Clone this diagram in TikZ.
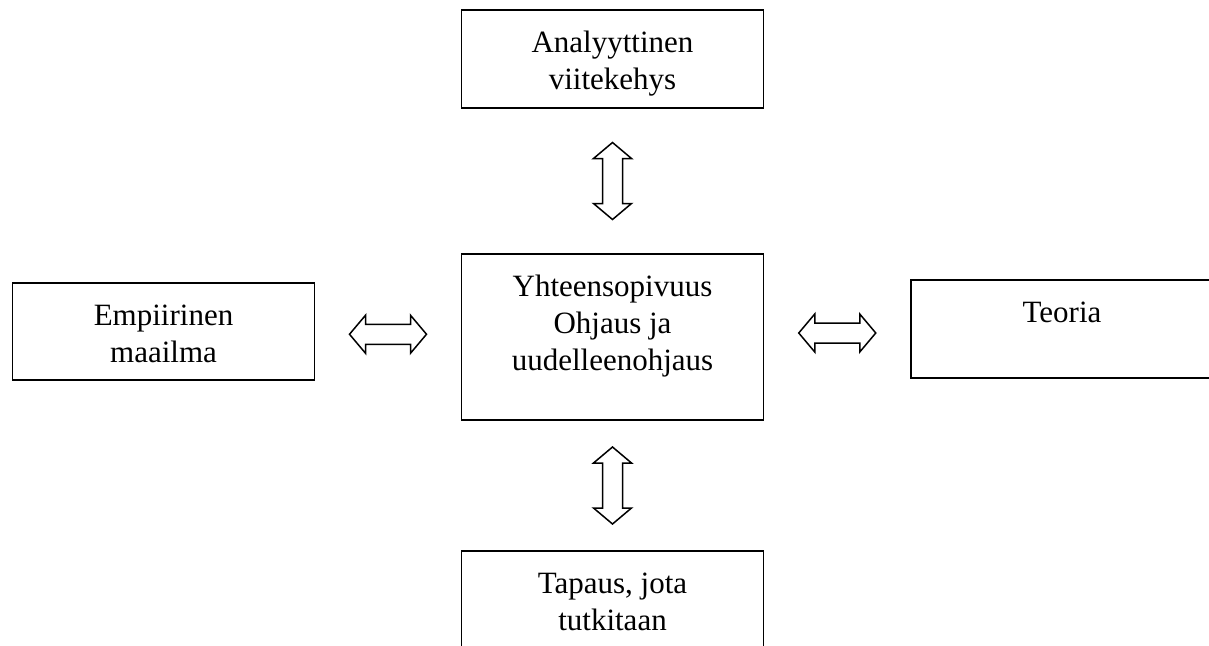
\documentclass[tikz,border=0pt]{standalone}
\usepackage{fontspec}
\setmainfont{Liberation Serif}
\usetikzlibrary{calc}
\newcommand{\boxtext}[2]{\parbox[c][#1][t]{302pt}{\centering\rule{0pt}{42pt}#2}}

\begin{document}
\begin{tikzpicture}[x=1pt, y=-1pt,
  box/.style={draw, line width=1.6pt, inner sep=0pt, font=\fontsize{31}{37}\selectfont},
  blockarrow/.style={draw, line width=1.5pt, line join=miter}]
\useasboundingbox (0,0) rectangle (1209,645);

\node[box] (top) at (612.5,59) {\boxtext{98pt}{Analyyttinen\\viitekehys}};
\node[box] (left) at (163.5,331.5) {\boxtext{97pt}{Empiirinen\\maailma}};
\node[box] (mid) at (612.5,337) {\boxtext{166pt}{Yhteensopivuus\\Ohjaus ja\\uudelleenohjaus}};
\node[box] (right) at (1062,329) {\boxtext{98pt}{Teoria}};
\node[box] (bot) at (612.5,606) {\boxtext{110pt}{Tapaus, jota\\tutkitaan}};

% hollow double arrows half way between the boxes
\foreach \a/\b/\r in {top.south/mid.north/90, mid.south/bot.north/90,
                      left.east/mid.west/0, mid.east/right.west/0}
  \draw[blockarrow, shift={($(\a)!0.5!(\b)$)}, rotate=\r]
    (-38.5,0) -- (-22.5,19) -- (-22.5,10) -- (22.5,10) -- (22.5,19) -- (38.5,0)
    -- (22.5,-19) -- (22.5,-10) -- (-22.5,-10) -- (-22.5,-19) -- cycle;
\end{tikzpicture}
\end{document}
